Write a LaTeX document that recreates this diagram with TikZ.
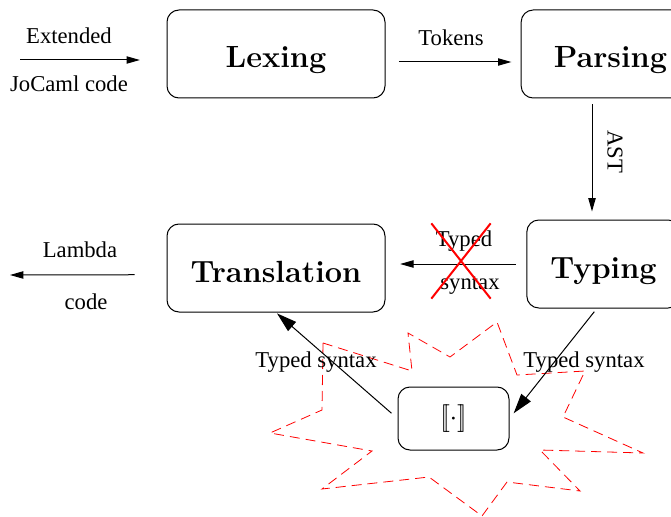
\documentclass[tikz,border=0pt]{standalone}
\usepackage{fontspec}
\newfontfamily\timesfont{Liberation Serif}
\usetikzlibrary{arrows.meta,shapes.misc}

\begin{document}
\begin{tikzpicture}[x=0.75pt,y=-0.75pt,line width=0.75pt,
    phase/.style={draw, rounded corners=9pt, minimum height=66pt, inner sep=0pt,
        text height=21pt, text depth=0pt, font=\fontsize{23}{27}\selectfont\bfseries},
    lbl/.style={font=\timesfont\fontsize{17}{20}\selectfont, inner sep=1pt},
    flow/.style={-{Triangle[length=10pt,width=5.5pt]}},
    bigflow/.style={-{Triangle[length=15pt,width=9pt]}}]
    \useasboundingbox (0,0) rectangle (671,517);
%    the dashed star round the translation function
    \draw[red, line width=0.6pt, dash pattern=on 7.5pt off 4.5pt]
        (323,343) -- (322,410) -- (270,433) -- (372,451) -- (322,489) -- (429,477)
        -- (482,516) -- (507,482) -- (580,491) -- (540,450) -- (643,453) -- (563,417)
        -- (585,371) -- (517,375) -- (497,322) -- (450,357) -- (408,333) -- (412,371) -- cycle;
    \node[phase, minimum width=163.5pt] (lexing) at (276,54) {Lexing};
    \node[phase, minimum width=134pt] (parsing) at (610.5,54) {Parsing};
    \node[phase, minimum width=115pt] (typing) at (603.5,264) {Typing};
    \node[phase, minimum width=163.5pt] (translation) at (276,268) {Translation};
    \node[draw, rounded corners=9pt, minimum width=83.25pt, minimum height=47.25pt,
        font=\fontsize{20}{24}\selectfont] (sem) at (453.5,418.5) {$[\![\cdot]\!]$};
    \coordinate (src) at (20,60);
    \coordinate (dst) at (10,275);
    \draw[flow, shorten >=20pt] (src) -- (src -| lexing.west);
    \node[lbl] (extended) at (69,36) {Extended};
    \node[lbl] (jocaml) at (69,84) {JoCaml code};
    \draw[flow, shorten <=10pt, shorten >=7pt] ([yshift=-6pt]lexing.east) -- ([yshift=-6pt]parsing.west);
    \node[lbl] (tokens) at (451,38) {Tokens};
    \draw[flow, shorten <=4.5pt, shorten >=6pt] (parsing.south -| 592,0) -- (typing.north -| 592,0);
    \node[lbl, rotate=-90] (ast) at (615,152) {AST};
    \draw[flow, shorten <=8pt, shorten >=11pt] (typing.west) -- (typing.west -| translation.east);
    \node[lbl] (typed) at (464,241) {Typed};
    \node[lbl] (syntax) at (470,286) {syntax};
    \node[cross out, draw=red, line width=1.5pt, minimum width=43pt, minimum height=55pt] (veto) at (461,261) {};
    \draw[bigflow, shorten <=3pt, shorten >=5pt] ([xshift=-5pt]typing.south) -- (sem.east);
    \node[lbl] (tsright) at (584,362) {Typed syntax};
    \draw[bigflow, shorten <=6pt, shorten >=1pt] (sem.west) -- (translation.south);
    \node[lbl] (tsleft) at (316,362) {Typed syntax};
    \draw[flow, shorten <=24pt] ([yshift=-5pt]translation.west) -- (dst);
    \node[lbl] (lambda) at (80,250) {Lambda};
    \node[lbl] (code) at (86,302) {code};
\end{tikzpicture}
\end{document}
